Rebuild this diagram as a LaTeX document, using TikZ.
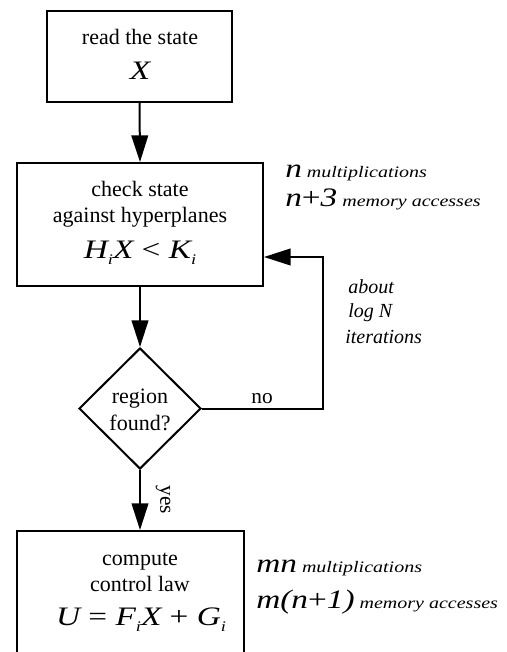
\documentclass[tikz,border=0pt]{standalone}
\usepackage{fontspec}
\setmainfont{Liberation Serif}
\newfontfamily\bigfont[FakeStretch=1.25]{Liberation Serif}
\usetikzlibrary{arrows.meta,shapes.geometric}
\tikzset{
  boxnode/.style={draw,line width=1.5pt,inner sep=0pt},
  txt/.style={anchor=base,inner sep=0pt,font=\fontsize{16.5}{19}\selectfont},
  mth/.style={anchor=base,inner sep=0pt,font=\bigfont\itshape\fontsize{20}{24}\selectfont},
  ann/.style={anchor=base west,inner sep=0pt,font=\bigfont\itshape\fontsize{12}{14}\selectfont},
  annit/.style={anchor=base west,inner sep=0pt,font=\itshape\fontsize{15}{18}\selectfont},
  arr/.style={line width=1.5pt,-{Triangle[length=20pt,width=12.5pt]}},
}
\newcommand{\mybigmath}[1]{{\bigfont\itshape\fontsize{20}{24}\selectfont #1}}
\newcommand{\mysub}[1]{\raisebox{-0.25em}{\fontsize{11}{12}\selectfont #1}}
\begin{document}
\begin{tikzpicture}[x=0.75pt,y=-0.75pt]
\path[use as bounding box] (0,0) rectangle (506,652);
\clip (0,0) rectangle (506,652);
% boxes
\node[boxnode,minimum width=138.75pt,minimum height=68.25pt] (b1) at (139.5,56.5) {};
\node[boxnode,minimum width=184.5pt,minimum height=92.25pt] (b2) at (140,224.5) {};
\node[draw,line width=1.5pt,diamond,inner sep=0pt,minimum width=91.5pt,minimum height=90.75pt] (d) at (140,408.5) {};
\node[boxnode,minimum width=170.25pt,minimum height=141.75pt] (b3) at (130.5,625.5) {};
% box texts
\node[txt] (t1a) at (140,45) {read the state};
\node[mth] (t1b) at (140,80) {X};
\node[txt] (t2a) at (140,197) {check state};
\node[txt] (t2b) at (140,223) {against hyperplanes};
\node[mth] (t2c) at (140,258) {H\mysub{i}X {\upshape<} K\mysub{i}};
\node[txt] (t3a) at (140,403) {region};
\node[txt] (t3b) at (140,430) {found?};
\node[txt] (t4a) at (140,565) {compute};
\node[txt] (t4b) at (140,591) {control law};
\node[mth] (t4c) at (141,625) {U {\upshape=} F\mysub{i}X {\upshape+} G\mysub{i}};
% connectors
\draw[arr] (b1.south) -- (b2.north);
\draw[arr] (b2.south) -- (d.north);
\draw[arr] (d.south) -- (d.south |- b3.north);
\coordinate (fb) at (323,257);
\draw[arr] (d.east) -| (fb) -- (b2.east |- fb);
% connector labels
\node[txt,font=\fontsize{16}{19}\selectfont] (no) at (262,403) {no};
\node[inner sep=0pt,rotate=-90,font=\fontsize{16}{19}\selectfont] (yes) at (163,500) {yes};
% annotations
\node[ann] (a1) at (285,178) {\mybigmath{n} multiplications};
\node[ann] (a2) at (285,207) {\mybigmath{n{\upshape+}3} memory accesses};
\node[annit] (a3) at (348,293) {about};
\node[annit] (a4) at (348,317) {log N};
\node[annit] (a5) at (345,343) {iterations};
\node[ann] (a6) at (256,572) {\mybigmath{mn} multiplications};
\node[ann] (a7) at (256,608) {\mybigmath{m(n{\upshape+}1)} memory accesses};
\end{tikzpicture}
\end{document}
